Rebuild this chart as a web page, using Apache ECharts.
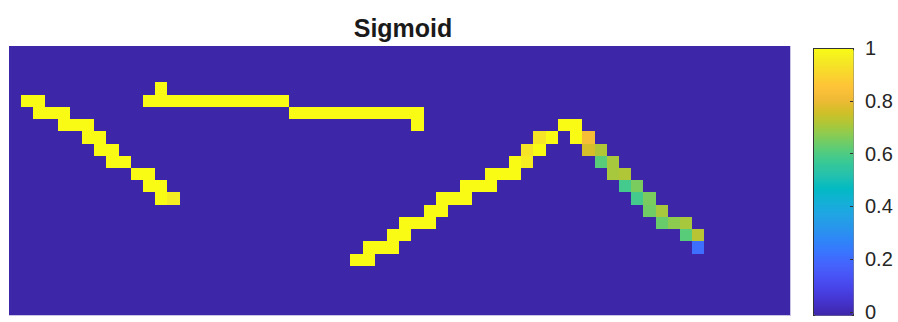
<!DOCTYPE html>
<html>
<head>
<meta charset="utf-8">
<script src="https://cdn.jsdelivr.net/npm/echarts@6/dist/echarts.min.js"></script>
<style>
html,body{margin:0;padding:0;background:#fff;}
#chart{width:898px;height:322px;}
#chart svg path, #chart svg rect{shape-rendering:crispEdges;}
</style>
</head>
<body>
<div id="chart"></div>
<script>
// ---- data ----
const title = 'Sigmoid';
const nCols = 64;
const nRows = 22;
// runs of full-intensity cells: [row, firstCol, lastCol]
const yellowRuns = [
  // stroke 1
  [4,1,2],[5,2,4],[6,4,6],[7,6,7],[8,7,8],[9,8,9],[10,10,11],[11,11,12],[12,12,12],
  // stroke 2
  [3,12,12],[4,11,22],[5,23,33],[6,33,33],
  // stroke 3 (rising part)
  [17,28,29],[16,29,31],[15,31,32],[14,32,34],[13,34,35],[12,35,37],[11,37,39],
  [10,39,41],[9,41,41],[8,43,43],[7,44,44],[6,45,46],[7,46,46]
];
// individual cells with partial values: [col, row, value]
const shadedCells = [
  [13,12,0.96],
  [42,9,0.96],[42,8,0.94],[43,7,0.94],
  [47,7,0.83],
  [47,8,0.77],[48,8,0.72],
  [48,9,0.62],[49,9,0.71],
  [49,10,0.71],[50,10,0.72],
  [50,11,0.59],[51,11,0.66],
  [51,12,0.59],[52,12,0.66],
  [52,13,0.65],[53,13,0.71],
  [53,14,0.64],[54,14,0.68],[55,14,0.71],
  [55,15,0.62],[56,15,0.73],
  [56,16,0.22]
];
const colorbarTicks = ['0','0.2','0.4','0.6','0.8','1'];
// parula colormap samples
const parula = ['#3E26A8','#4432CB','#4741E5','#4852F4','#4563FD','#3875FE','#2E87F7','#2797EB',
  '#20A5E3','#12B1D6','#02BAC3','#24C1AE','#37C897','#57CC7A','#81CC59','#ABC739','#D1BF27',
  '#F0BA36','#FEC338','#FAD62D','#F5E924','#F9FB15'];

// ---- build image matrix ----
const img = [];
for (let r = 0; r < nRows; r++) { img.push(new Array(nCols).fill(0)); }
yellowRuns.forEach(([r,c0,c1]) => { for (let c = c0; c <= c1; c++) img[r][c] = 1; });
shadedCells.forEach(([c,r,v]) => { img[r][c] = v; });
const heatData = [];
for (let r = 0; r < nRows; r++) for (let c = 0; c < nCols; c++) heatData.push([c, r, img[r][c]]);

const xCats = Array.from({length:nCols},(_, i)=>String(i+1));
const yCats = Array.from({length:nRows},(_, i)=>String(i+1));

const chart = echarts.init(document.getElementById('chart'), null, {renderer:'svg'});
chart.setOption({
  animation:false,
  backgroundColor:'#ffffff',
  title:{
    text:title, left:398, top:10, textAlign:'center',
    textStyle:{fontFamily:'Liberation Sans, Arial, sans-serif', fontSize:25, fontWeight:'bold', color:'#1a1a1a'}
  },
  grid:[
    {left:9, top:46, width:781, height:269, show:true, backgroundColor:'#3E26A8', borderColor:'#c9c4e6', borderWidth:1, z:0},
    {left:813, top:48, width:40, height:267, show:false}
  ],
  xAxis:[
    {type:'category', data:xCats, gridIndex:0, show:false},
    {type:'value', gridIndex:1, show:false, min:0, max:1}
  ],
  yAxis:[
    {type:'category', data:yCats, gridIndex:0, show:false, inverse:true},
    {type:'value', gridIndex:1, min:0, max:1, interval:0.2, position:'right', z:10,
     axisLine:{show:false, onZero:false}, splitLine:{show:false},
     axisTick:{show:true, inside:true, length:3, lineStyle:{color:'#333333'}},
     axisLabel:{margin:12, fontSize:20, color:'#262626', fontFamily:'Liberation Sans, Arial, sans-serif',
       formatter:(v)=>colorbarTicks[Math.round(v/0.2)]}}
  ],
  visualMap:{
    type:'continuous', min:0, max:1, seriesIndex:0, dimension:2, calculable:false,
    left:813, top:48, itemWidth:40, itemHeight:267, padding:0, text:null, showLabel:false,
    borderColor:'#333333', borderWidth:1,
    inRange:{color:parula}, z:5
  },
  series:[{
    type:'heatmap', xAxisIndex:0, yAxisIndex:0, data:heatData, progressive:0, z:2,
    itemStyle:{borderWidth:0}, emphasis:{disabled:true}
  }]
});
</script>
</body>
</html>
